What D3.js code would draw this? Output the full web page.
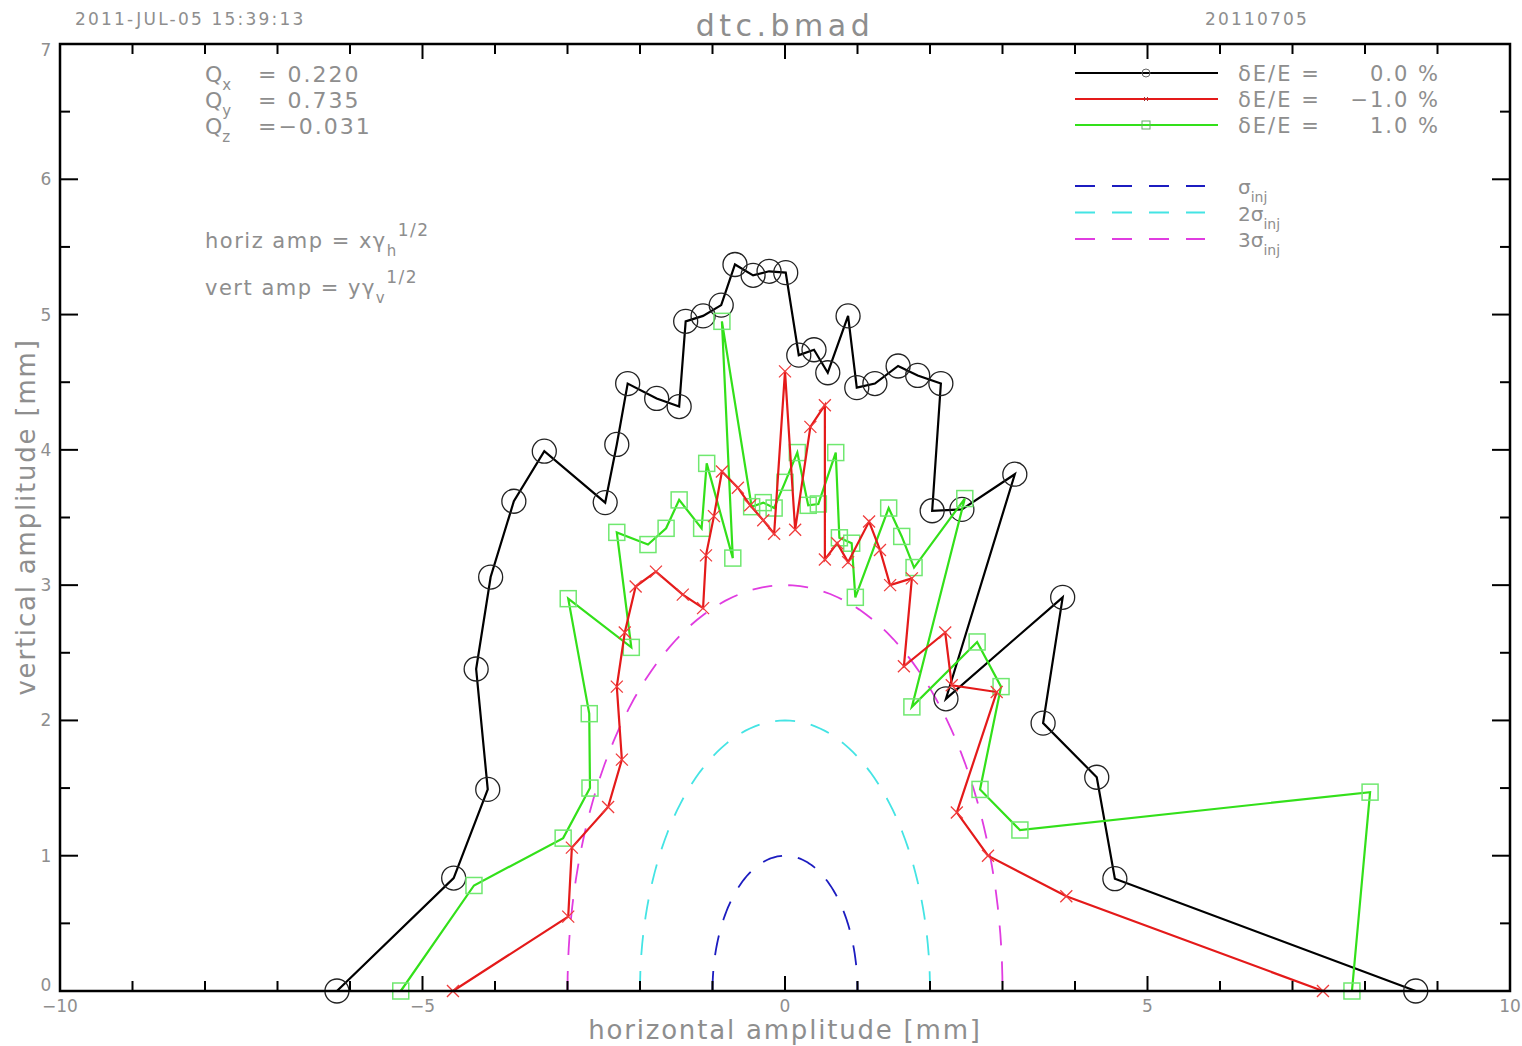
<!DOCTYPE html>
<html>
<head>
<meta charset="utf-8">
<script src="https://cdn.jsdelivr.net/npm/d3@7/dist/d3.min.js"></script>
<style>
body { margin:0; background:#fff; }
text { font-family:"DejaVu Sans", sans-serif; fill:#8e8e8e; }
</style>
</head>
<body>
<svg id="chart"></svg>
<script>
// dE/E = 0.0 %  (black, circles)
var de0_x = [-6.18,-4.57,-4.10,-4.26,-4.06,-3.74,-3.32,-2.48,-2.32,-2.17,-1.77,-1.46,-1.37,-1.13,-0.88,-0.69,-0.44,-0.22,0.01,0.19,0.40,0.59,0.87,0.99,1.24,1.56,1.83,2.15,2.03,2.44,3.17,2.22,3.83,3.56,4.30,4.55,8.70];
var de0_y = [0,0.835,1.49,2.38,3.06,3.62,3.99,3.61,4.04,4.49,4.38,4.32,4.95,4.99,5.07,5.37,5.29,5.32,5.31,4.70,4.74,4.57,4.99,4.46,4.49,4.62,4.55,4.49,3.55,3.56,3.82,2.16,2.91,1.98,1.58,0.83,0];
// dE/E = -1.0 % (red, crosses)
var deM1_x = [-4.58,-2.99,-2.94,-2.44,-2.25,-2.32,-2.21,-2.06,-1.78,-1.41,-1.13,-1.09,-0.98,-0.87,-0.65,-0.48,-0.30,-0.15,0,0.14,0.35,0.55,0.55,0.72,0.87,1.16,1.31,1.45,1.75,1.64,2.21,2.30,2.92,2.37,2.80,3.88,7.42];
var deM1_y = [0,0.55,1.06,1.36,1.71,2.25,2.65,2.99,3.10,2.93,2.83,3.22,3.51,3.84,3.72,3.59,3.48,3.38,4.58,3.41,4.17,4.33,3.19,3.31,3.17,3.47,3.26,3.00,3.05,2.40,2.65,2.26,2.21,1.32,1.00,0.70,0];
// dE/E = +1.0 % (green, squares)
var deP1_x = [-5.30,-4.29,-3.06,-2.69,-2.70,-2.99,-2.12,-2.32,-1.89,-1.64,-1.46,-1.15,-1.08,-0.72,-0.87,-0.46,-0.30,-0.15,0,0.17,0.32,0.46,0.70,0.75,0.92,0.97,1.43,1.61,1.78,2.48,1.75,2.65,2.98,2.69,3.24,8.07,7.82];
var deP1_y = [0,0.78,1.13,1.50,2.05,2.90,2.54,3.39,3.30,3.42,3.63,3.42,3.90,3.20,4.95,3.58,3.61,3.57,3.76,3.98,3.59,3.60,3.98,3.35,3.31,2.91,3.57,3.36,3.13,3.64,2.10,2.58,2.25,1.49,1.19,1.47,0];

var sigmaRadii = [1, 2, 3];
var sigmaColors = ["#1c1cc0", "#44e4e4", "#e03ce0"];
var sigmaLabels = ["", "2", "3"];

var seriesNames = ["0.0", "\u22121.0", "1.0"];
var seriesColors = ["#000000", "#e41a1a", "#33e01a"];

var xMajorTicks = [-10, -5, 0, 5, 10];
var xMinorTicks = d3.range(-10, 10.5, 1);
var yMajorTicks = [0, 1, 2, 3, 4, 5, 6, 7];
var yMinorTicks = d3.range(0, 7.25, 0.5);

var W = 1522, H = 1046;
var pLeft = 60, pRight = 1510, pTop = 44, pBottom = 991;

var svg = d3.select("#chart").attr("width", W).attr("height", H);

var x = d3.scaleLinear().domain([-10, 10]).range([pLeft, pRight]);
var y = d3.scaleLinear().domain([0, 7]).range([pBottom, pTop]);

var plot = svg.append("g");

// sigma contours
var angles = d3.range(0, 181, 2).map(function(a){ return a * Math.PI / 180; });
sigmaRadii.forEach(function(r, i){
    var line = d3.line()
        .x(function(a){ return x(r * Math.cos(a)); })
        .y(function(a){ return y(r * Math.sin(a)); });
    plot.append("path")
        .attr("d", line(angles.slice().reverse()))
        .attr("fill", "none")
        .attr("stroke", sigmaColors[i])
        .attr("stroke-width", 1.8)
        .attr("stroke-dasharray", "20,16");
});

function drawSeries(xs, ys, color, marker){
    var pts = xs.map(function(d, i){ return [d, ys[i]]; });
    var line = d3.line().x(function(d){ return x(d[0]); }).y(function(d){ return y(d[1]); });
    var g = plot.append("g");
    g.append("path")
        .attr("d", line(pts))
        .attr("fill", "none")
        .attr("stroke", color)
        .attr("stroke-width", 2.2)
        .attr("stroke-linejoin", "miter");
    var m = g.selectAll(".mk").data(pts).enter().append("g")
        .attr("transform", function(d){ return "translate(" + x(d[0]) + "," + y(d[1]) + ")"; });
    if (marker == "circle") {
        m.append("circle").attr("r", 12).attr("fill", "none")
            .attr("stroke", "#222").attr("stroke-width", 1.3);
    } else if (marker == "cross") {
        m.append("path").attr("d", "M-6,-6L6,6M-6,6L6,-6")
            .attr("stroke", "#f03c3c").attr("stroke-width", 1.3);
    } else {
        m.append("rect").attr("x", -8).attr("y", -8).attr("width", 16).attr("height", 16)
            .attr("fill", "none").attr("stroke", "#70e870").attr("stroke-width", 1.5);
    }
}

drawSeries(de0_x, de0_y, seriesColors[0], "circle");
drawSeries(deP1_x, deP1_y, seriesColors[2], "square");
drawSeries(deM1_x, deM1_y, seriesColors[1], "cross");

// frame + ticks
var axes = svg.append("g").attr("stroke", "#000");
axes.append("rect").attr("x", pLeft).attr("y", pTop)
    .attr("width", pRight - pLeft).attr("height", pBottom - pTop)
    .attr("fill", "none").attr("stroke-width", 2.5);

xMinorTicks.forEach(function(t){
    var len = xMajorTicks.indexOf(t) >= 0 ? 15 : 10;
    axes.append("line").attr("x1", x(t)).attr("x2", x(t)).attr("y1", pBottom).attr("y2", pBottom - len).attr("stroke-width", 2);
    axes.append("line").attr("x1", x(t)).attr("x2", x(t)).attr("y1", pTop).attr("y2", pTop + len).attr("stroke-width", 2);
});
yMinorTicks.forEach(function(t){
    var len = yMajorTicks.indexOf(t) >= 0 ? 18 : 10;
    axes.append("line").attr("y1", y(t)).attr("y2", y(t)).attr("x1", pLeft).attr("x2", pLeft + len).attr("stroke-width", 2);
    axes.append("line").attr("y1", y(t)).attr("y2", y(t)).attr("x1", pRight).attr("x2", pRight - len).attr("stroke-width", 2);
});

// tick labels
svg.selectAll(".xl").data(xMajorTicks).enter().append("text")
    .attr("x", function(d){ return x(d); }).attr("y", 1012)
    .attr("text-anchor", "middle").style("font-size", "17px")
    .text(function(d){ return d < 0 ? "\u2212" + (-d) : d; });
svg.selectAll(".yl").data(yMajorTicks).enter().append("text")
    .attr("x", 46).attr("y", function(d){ return y(d) + (d == 0 ? 0 : d == 7 ? 12 : 6); })
    .attr("text-anchor", "middle").style("font-size", "17px")
    .text(function(d){ return d; });

// axis titles
svg.append("text").attr("x", 785).attr("y", 1039).attr("text-anchor", "middle")
    .style("font-size", "26px").style("letter-spacing", "1.8px")
    .text("horizontal amplitude [mm]");
svg.append("text").attr("transform", "translate(35,517) rotate(-90)").attr("text-anchor", "middle")
    .style("font-size", "26px").style("letter-spacing", "1.8px")
    .text("vertical amplitude [mm]");

// header
svg.append("text").attr("x", 75).attr("y", 25).style("font-size", "17px").style("letter-spacing", "2.2px")
    .text("2011-JUL-05 15:39:13");
svg.append("text").attr("x", 785).attr("y", 36).attr("text-anchor", "middle")
    .style("font-size", "30px").style("letter-spacing", "4.5px").text("dtc.bmad");
svg.append("text").attr("x", 1205).attr("y", 25).style("font-size", "17px").style("letter-spacing", "2.2px")
    .text("20110705");

// tunes
var tuneNames = ["x", "y", "z"];
var tuneValues = ["= 0.220", "= 0.735", "=\u22120.031"];
tuneNames.forEach(function(n, i){
    var t = svg.append("text").attr("x", 205).attr("y", 82 + i * 26).style("font-size", "22px");
    t.append("tspan").text("Q");
    t.append("tspan").attr("dy", 8).style("font-size", "15px").text(n);
    svg.append("text").attr("x", 258).attr("y", 82 + i * 26).style("font-size", "22px")
        .style("letter-spacing", "2px").text(tuneValues[i]);
});

// amplitude definitions
var amp = [["horiz amp = x\u03b3", "h", 248], ["vert amp = y\u03b3", "v", 295]];
amp.forEach(function(a){
    var t = svg.append("text").attr("x", 205).attr("y", a[2]).style("font-size", "21px").style("letter-spacing", "1.5px");
    t.append("tspan").text(a[0]);
    t.append("tspan").attr("dy", 8).style("font-size", "15px").text(a[1]);
    t.append("tspan").attr("dy", -20).style("font-size", "17px").text("1/2");
});

// legend
var markers = ["circle", "cross", "square"];
seriesNames.forEach(function(n, i){
    var ly = 73 + i * 26;
    svg.append("line").attr("x1", 1075).attr("x2", 1218).attr("y1", ly).attr("y2", ly)
        .attr("stroke", seriesColors[i]).attr("stroke-width", 2);
    if (markers[i] == "circle") svg.append("circle").attr("cx", 1146).attr("cy", ly).attr("r", 4).attr("fill", "none").attr("stroke", "#666").attr("stroke-width", 1);
    else if (markers[i] == "cross") svg.append("path").attr("d", "M1144," + (ly-2) + "l4,4m0,-4l-4,4").attr("stroke", "#a33").attr("stroke-width", 1);
    else svg.append("rect").attr("x", 1142).attr("y", ly - 4).attr("width", 8).attr("height", 8).attr("fill", "none").attr("stroke", "#6a6").attr("stroke-width", 1);
    svg.append("text").attr("x", 1238).attr("y", ly + 8).style("font-size", "21px").style("letter-spacing", "2px")
        .text("\u03b4E/E  =");
    svg.append("text").attr("x", 1440).attr("y", ly + 8).attr("text-anchor", "end").style("font-size", "21px").style("letter-spacing", "2px")
        .text(n + " %");
});
sigmaRadii.forEach(function(r, i){
    var ly = 186 + i * 26.5;
    svg.append("line").attr("x1", 1075).attr("x2", 1205).attr("y1", ly).attr("y2", ly)
        .attr("stroke", sigmaColors[i]).attr("stroke-width", 1.8).attr("stroke-dasharray", "20,17");
    var t = svg.append("text").attr("x", 1238).attr("y", ly + 8).style("font-size", "20px");
    t.append("tspan").text(sigmaLabels[i] + "\u03c3");
    t.append("tspan").attr("dy", 8).style("font-size", "14px").text("inj");
});
</script>
</body>
</html>
